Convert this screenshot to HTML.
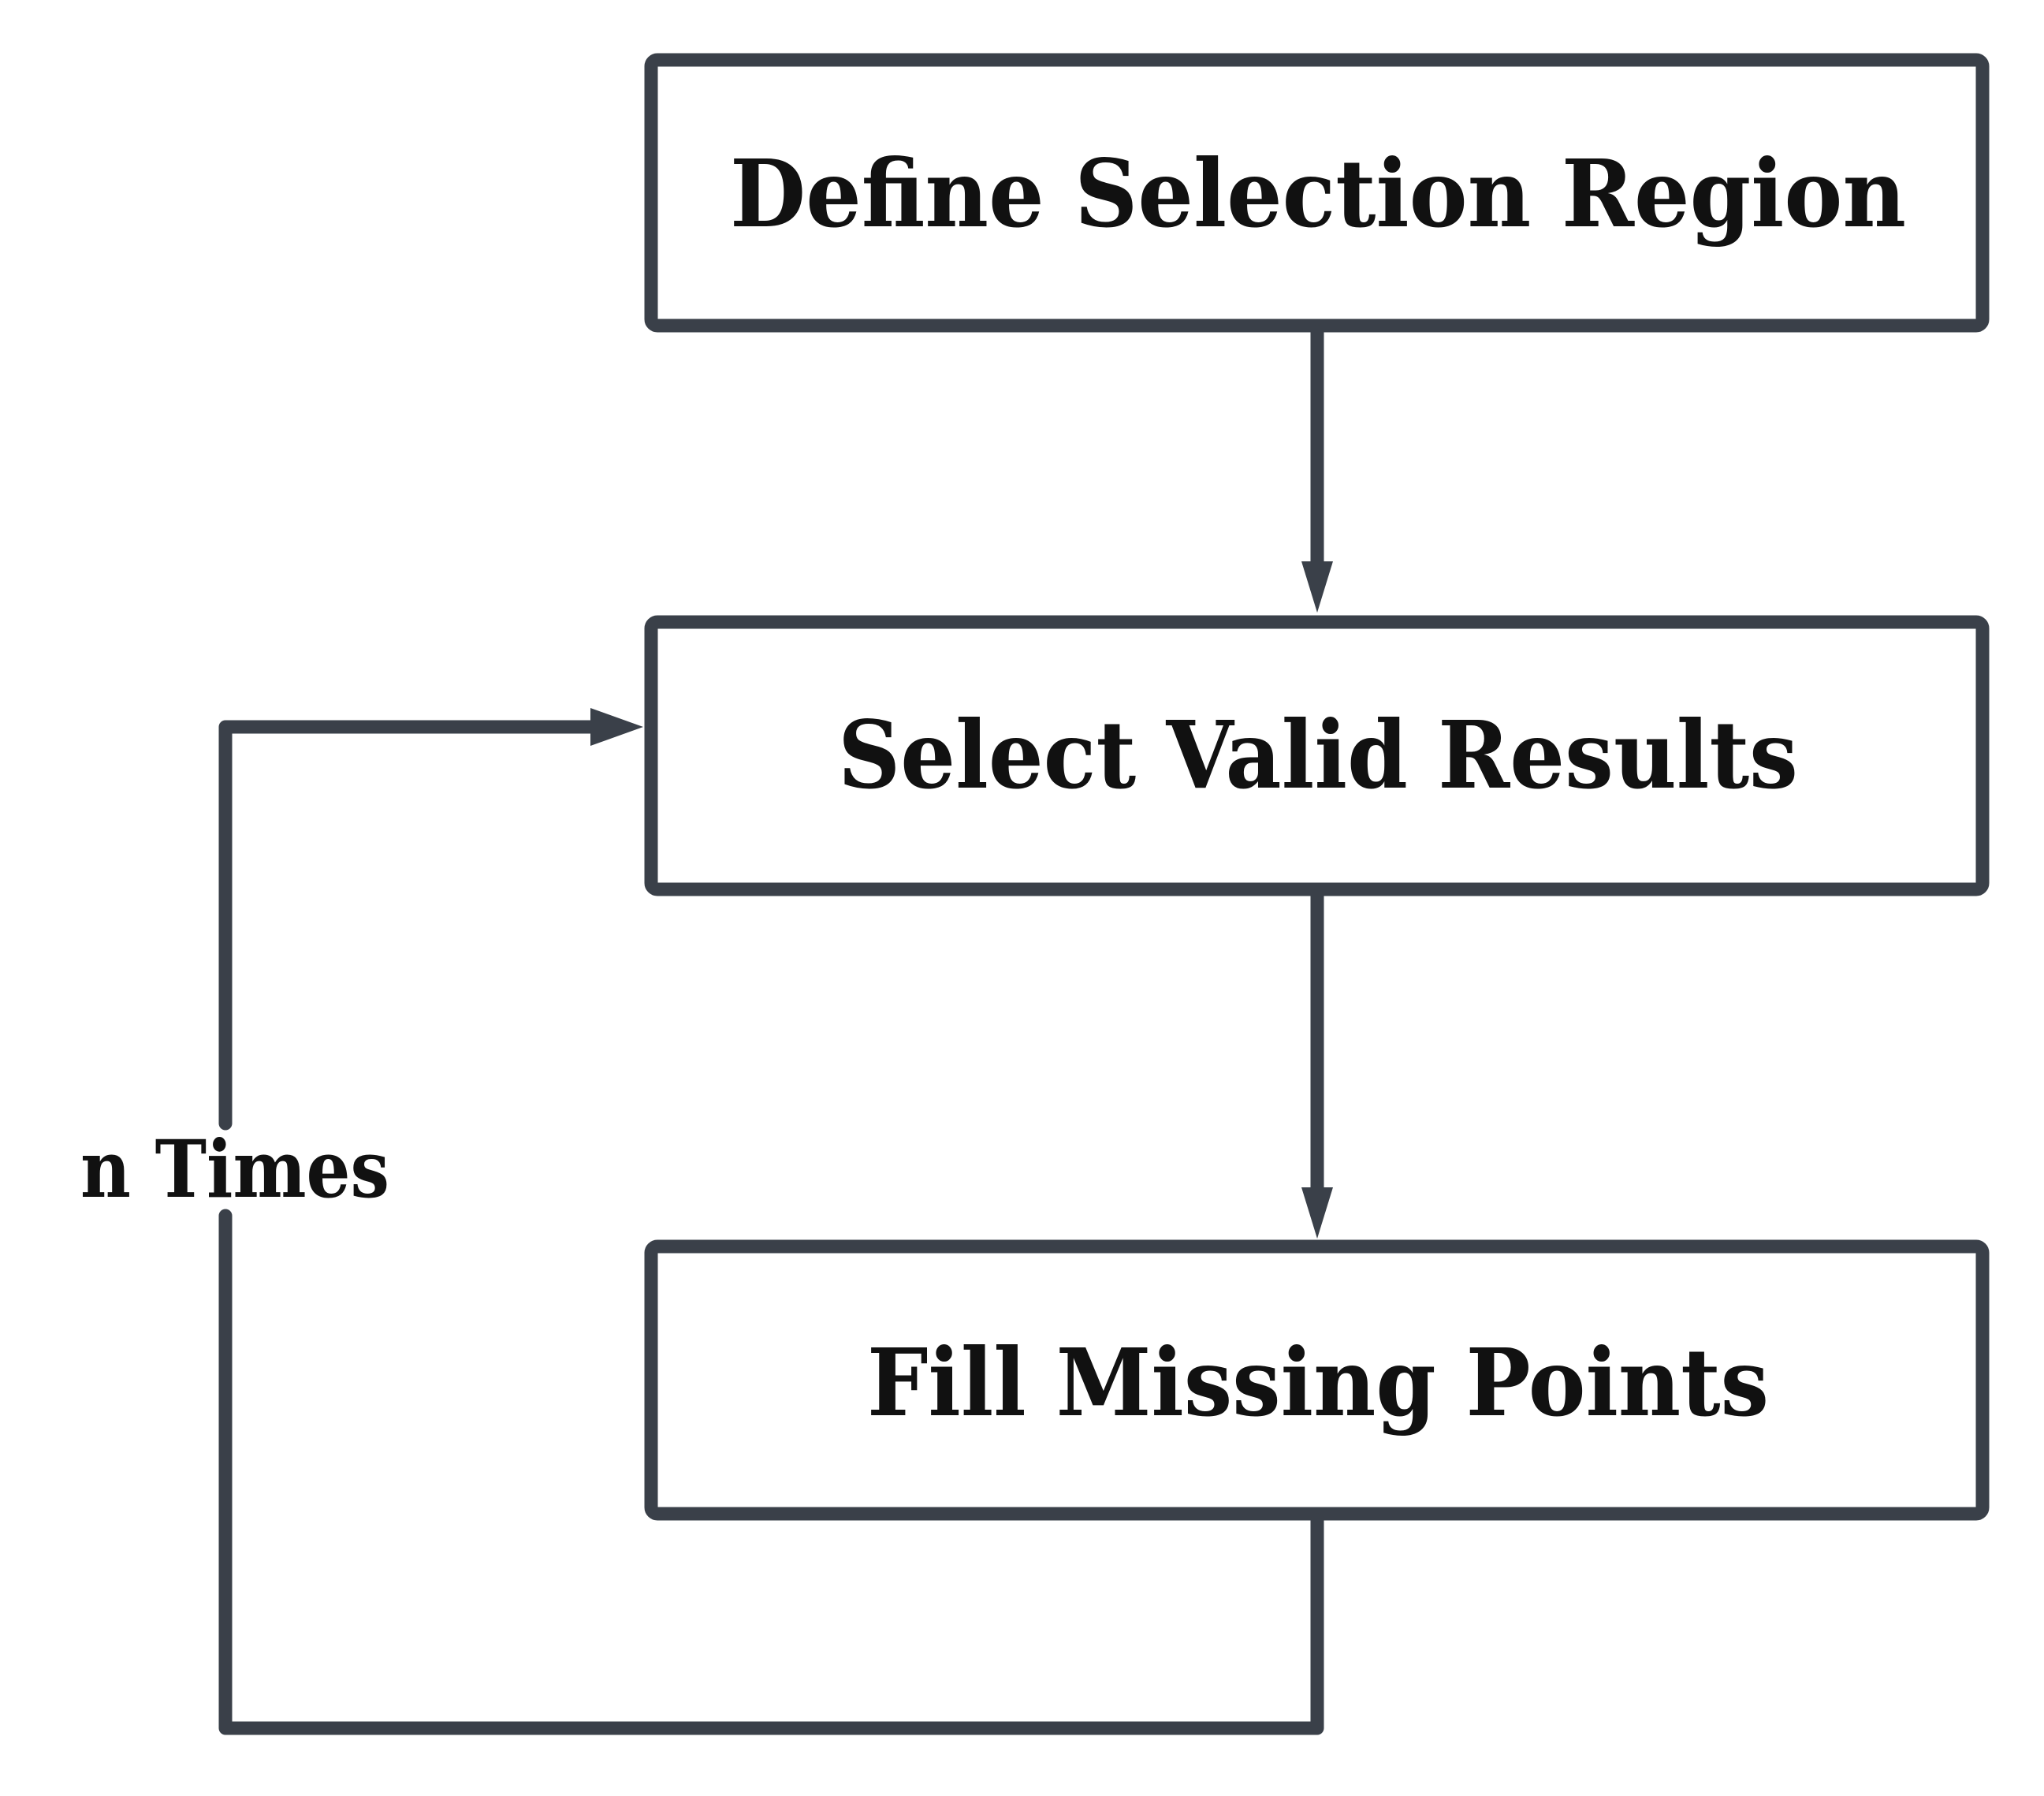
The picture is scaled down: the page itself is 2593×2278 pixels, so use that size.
<!DOCTYPE html>
<html><head><meta charset="utf-8"><style>html,body{margin:0;padding:0;background:#fff}svg{display:block}</style></head>
<body>
<svg width="2593" height="2278" viewBox="0 0 2593 2278" xmlns="http://www.w3.org/2000/svg">
<rect width="2593" height="2278" fill="#fff"/>
<g fill="none" stroke="#3a4049" stroke-width="17" stroke-linejoin="round" stroke-linecap="round">
<rect x="826" y="76" width="1689" height="337" rx="8"/>
<rect x="826" y="789" width="1689" height="339" rx="8"/>
<rect x="826" y="1581" width="1689" height="339" rx="8"/>
<line x1="1671" y1="421" x2="1671" y2="715"/>
<line x1="1671" y1="1136" x2="1671" y2="1510"/>
<path d="M1671 1928 L1671 2192 L286 2192 L286 1542"/>
<path d="M286 1425 L286 922 L752 922"/>
</g>
<g fill="#3a4049">
<polygon points="1651,712 1691,712 1671,777"/>
<polygon points="1651,1506 1691,1506 1671,1571"/>
<polygon points="749,898 749,946 816,922"/>
</g>
<g font-family="'DejaVu Serif','Liberation Serif',serif" font-weight="bold" fill="#111">
<text x="926" y="287" font-size="118" textLength="1492" lengthAdjust="spacingAndGlyphs">Define Selection Region</text>
<text x="1063" y="999" font-size="118" textLength="1218" lengthAdjust="spacingAndGlyphs">Select Valid Results</text>
<text x="1100" y="1795" font-size="118" textLength="1144" lengthAdjust="spacingAndGlyphs">Fill Missing Points</text>
<text x="102" y="1518" font-size="100" textLength="392" lengthAdjust="spacingAndGlyphs">n Times</text>
</g>
</svg>
</body></html>
